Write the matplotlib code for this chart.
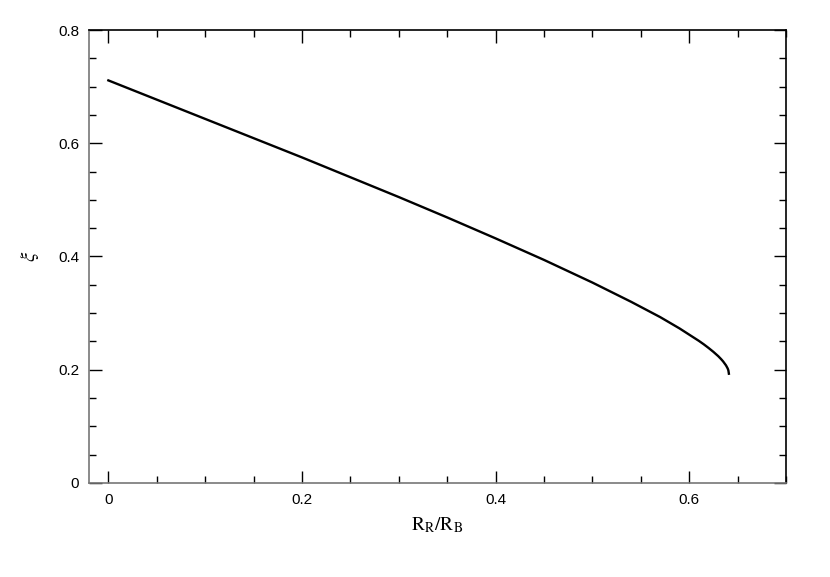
import matplotlib
matplotlib.use('Agg')
import matplotlib.pyplot as plt
from matplotlib.ticker import MultipleLocator

# curve
ratio = [0.0, 0.05, 0.10, 0.15, 0.20, 0.25, 0.30, 0.35, 0.40, 0.45, 0.50,
         0.52, 0.54, 0.55, 0.57, 0.58, 0.59, 0.60, 0.61, 0.615, 0.62, 0.625,
         0.63, 0.633, 0.635, 0.638, 0.6395, 0.640, 0.6405, 0.641]
xi = [0.711, 0.677, 0.643, 0.609, 0.575, 0.540, 0.505, 0.469, 0.432, 0.394,
      0.354, 0.337, 0.320, 0.311, 0.293, 0.283, 0.273, 0.262, 0.251, 0.245,
      0.2385, 0.2316, 0.224, 0.2187, 0.2148, 0.2078, 0.2031, 0.2012, 0.1986,
      0.193]

plt.rcParams['font.family'] = ['Liberation Sans', 'DejaVu Sans']
plt.rcParams['mathtext.fontset'] = 'stix'

fig = plt.figure(figsize=(8.3, 5.77), dpi=100)
ax = fig.add_axes([89 / 830, 1 - 483 / 577, (786 - 89) / 830, (483 - 30) / 577])

ax.plot(ratio, xi, color='black', lw=1.7)

ax.set_xlim(-0.02, 0.7)
ax.set_ylim(0, 0.8)
ax.xaxis.set_major_locator(MultipleLocator(0.2))
ax.xaxis.set_minor_locator(MultipleLocator(0.05))
ax.yaxis.set_major_locator(MultipleLocator(0.2))
ax.yaxis.set_minor_locator(MultipleLocator(0.05))
fmt = plt.FuncFormatter(lambda v, p: '0' if abs(v) < 1e-9 else f'{v:.1f}')
ax.xaxis.set_major_formatter(fmt)
ax.yaxis.set_major_formatter(fmt)

ax.tick_params(which='both', direction='in', top=True, right=True, labelsize=11, pad=7)
ax.tick_params(which='major', length=9, width=1)
ax.tick_params(which='minor', length=5, width=1)

for side in ['left', 'bottom']:
    ax.spines[side].set_color('#777777')
for side in ['top', 'right']:
    ax.spines[side].set_color('black')
for s in ax.spines.values():
    s.set_linewidth(1.2)

ax.set_xlabel(r'$\mathrm{R_R/R_B}$', fontsize=14, labelpad=6)
ax.set_ylabel(r'$\xi$', fontsize=15, labelpad=12)

fig.savefig('out.png', dpi=100)
